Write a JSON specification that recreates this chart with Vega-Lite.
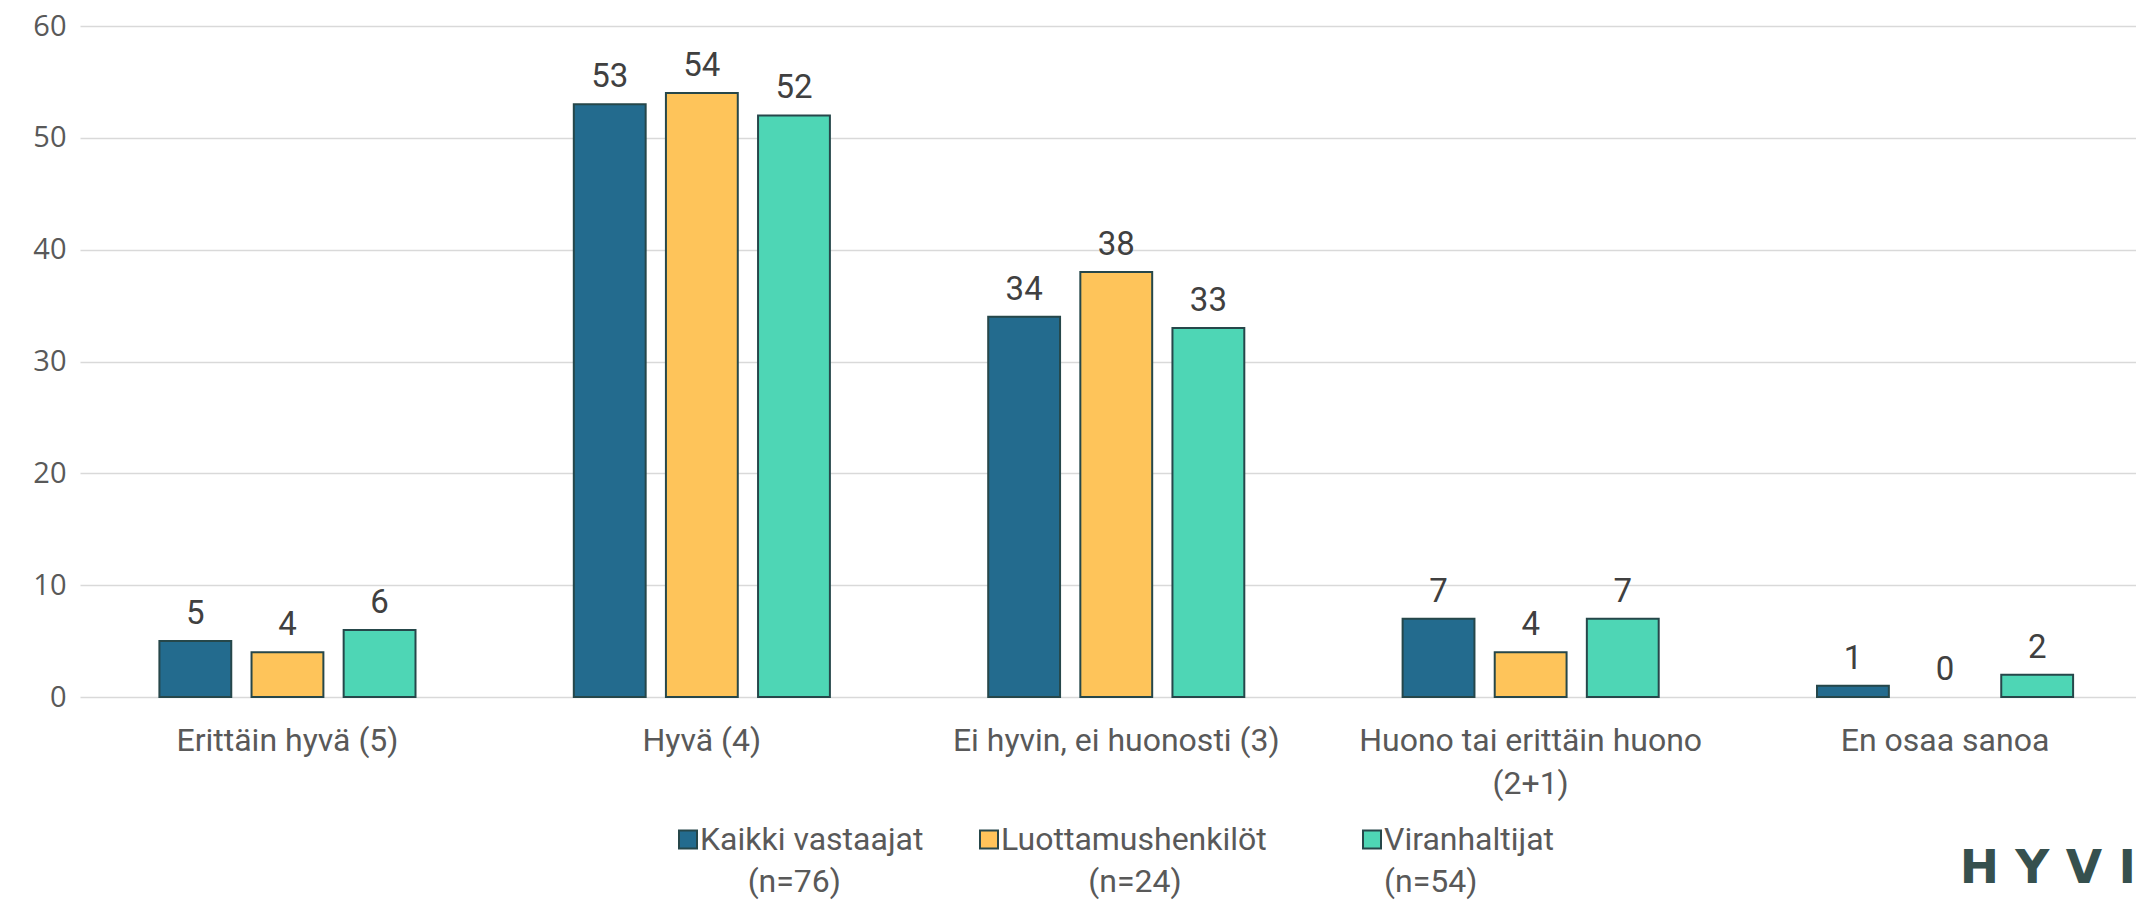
{
  "$schema": "https://vega.github.io/schema/vega-lite/v6.json",
  "width": 2056,
  "height": 671,
  "autosize": {"type": "none"},
  "padding": {"left": 80, "top": 26, "right": 0, "bottom": 205},
  "background": "white",
  "config": {"view": {"stroke": null}, "style": {"guide-label": {"lineHeight": 42}}},
  "data": {
    "values": [
      {"cat": "Erittäin hyvä (5)", "group": "Kaikki vastaajat", "value": 5},
      {"cat": "Erittäin hyvä (5)", "group": "Luottamushenkilöt", "value": 4},
      {"cat": "Erittäin hyvä (5)", "group": "Viranhaltijat", "value": 6},
      {"cat": "Hyvä (4)", "group": "Kaikki vastaajat", "value": 53},
      {"cat": "Hyvä (4)", "group": "Luottamushenkilöt", "value": 54},
      {"cat": "Hyvä (4)", "group": "Viranhaltijat", "value": 52},
      {"cat": "Ei hyvin, ei huonosti (3)", "group": "Kaikki vastaajat", "value": 34},
      {"cat": "Ei hyvin, ei huonosti (3)", "group": "Luottamushenkilöt", "value": 38},
      {"cat": "Ei hyvin, ei huonosti (3)", "group": "Viranhaltijat", "value": 33},
      {"cat": "Huono tai erittäin huono (2+1)", "group": "Kaikki vastaajat", "value": 7},
      {"cat": "Huono tai erittäin huono (2+1)", "group": "Luottamushenkilöt", "value": 4},
      {"cat": "Huono tai erittäin huono (2+1)", "group": "Viranhaltijat", "value": 7},
      {"cat": "En osaa sanoa", "group": "Kaikki vastaajat", "value": 1},
      {"cat": "En osaa sanoa", "group": "Luottamushenkilöt", "value": 0},
      {"cat": "En osaa sanoa", "group": "Viranhaltijat", "value": 2}
    ]
  },
  "encoding": {
    "x": {
      "field": "cat",
      "type": "nominal",
      "sort": ["Erittäin hyvä (5)", "Hyvä (4)", "Ei hyvin, ei huonosti (3)", "Huono tai erittäin huono (2+1)", "En osaa sanoa"],
      "scale": {"paddingInner": 0.382, "paddingOuter": 0.1717, "align": 0.558},
      "axis": {
        "title": null,
        "labelAngle": 0,
        "domain": false,
        "ticks": false,
        "grid": false,
        "labelFont": "Roboto",
        "labelFontSize": 32,
        "labelColor": "#595959",
        "labelPadding": 28,
        "labelLineHeight": 43,
        "labelLimit": 0,
        "labelExpr": "datum.value == 'Huono tai erittäin huono (2+1)' ? ['Huono tai erittäin huono', '(2+1)'] : datum.value"
      }
    },
    "xOffset": {
      "field": "group",
      "type": "nominal",
      "sort": ["Kaikki vastaajat", "Luottamushenkilöt", "Viranhaltijat"],
      "scale": {"paddingInner": 0.22, "paddingOuter": 0}
    },
    "y": {
      "field": "value",
      "type": "quantitative",
      "scale": {"domain": [0, 60]},
      "axis": {
        "title": null,
        "domain": false,
        "ticks": false,
        "values": [0, 10, 20, 30, 40, 50, 60],
        "labelFont": "Open Sans",
        "labelFontSize": 29,
        "labelColor": "#595959",
        "labelPadding": 14,
        "gridColor": "#D9D9D9",
        "gridWidth": 1.5
      }
    }
  },
  "layer": [
    {
      "transform": [{"filter": "datum.value > 0"}],
      "mark": {"type": "bar", "stroke": "#26474A", "strokeWidth": 2},
      "encoding": {
        "color": {
          "field": "group",
          "type": "nominal",
          "sort": ["Kaikki vastaajat", "Luottamushenkilöt", "Viranhaltijat"],
          "scale": {
            "domain": ["Kaikki vastaajat", "Luottamushenkilöt", "Viranhaltijat"],
            "range": ["#236B8E", "#FEC45A", "#4ED6B5"]
          },
          "legend": {
            "orient": "none",
            "legendX": 592,
            "legendY": 808,
            "direction": "horizontal",
            "title": null,
            "symbolType": "M-1,-2.17H1V-0.17H-1Z",
            "symbolSize": 324,
            "symbolStrokeColor": "#26474A",
            "symbolStrokeWidth": 2,
            "labelFont": "Roboto",
            "labelFontSize": 32,
            "labelColor": "#595959",
            "labelBaseline": "alphabetic",
            "labelOffset": -4,
            "labelLimit": 0,
            "columnPadding": 49,
            "labelExpr": "datum.label == 'Kaikki vastaajat' ? ['Kaikki vastaajat', '\u200b\u00a0\u00a0\u00a0\u00a0\u00a0\u00a0(n=76)'] : datum.label == 'Luottamushenkilöt' ? ['Luottamushenkilöt\u00a0\u00a0\u00a0\u00a0\u00a0\u200b', '\u200b\u00a0\u00a0\u00a0\u00a0\u00a0\u00a0\u00a0\u00a0\u00a0\u00a0\u00a0(n=24)'] : ['Viranhaltijat', '(n=54)']"
          }
        }
      }
    },
    {
      "mark": {
        "type": "text",
        "baseline": "alphabetic",
        "dy": -17,
        "font": "Roboto",
        "fontSize": 33,
        "color": "#404040"
      },
      "encoding": {"text": {"field": "value", "type": "quantitative"}}
    }
  ],
  "title": {
    "text": "H Y V I",
    "orient": "bottom",
    "anchor": "end",
    "font": "DejaVu Sans",
    "fontWeight": "bold",
    "fontSize": 47,
    "color": "#36504E",
    "offset": -52
  }
}
